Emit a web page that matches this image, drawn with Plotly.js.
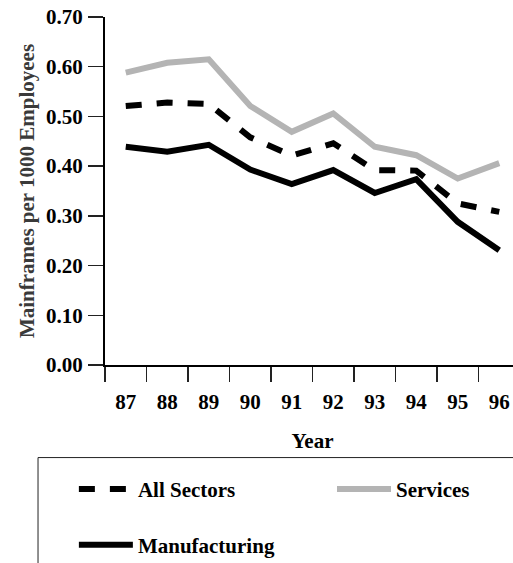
<!DOCTYPE html>
<html>
<head>
<meta charset="utf-8">
<script src="https://cdn.plot.ly/plotly-3.0.1.min.js"></script>
<style>
html, body { margin: 0; padding: 0; overflow: hidden; background: #fff; }
#chart { width: 640px; height: 600px; }
</style>
</head>
<body>
<div id="chart"></div>
<script>
var years = ["87", "88", "89", "90", "91", "92", "93", "94", "95", "96"];
var allSectors = [0.521, 0.528, 0.525, 0.458, 0.421, 0.446, 0.392, 0.391, 0.325, 0.308];
var services = [0.588, 0.608, 0.615, 0.521, 0.469, 0.506, 0.439, 0.422, 0.375, 0.406];
var manufacturing = [0.439, 0.429, 0.443, 0.393, 0.364, 0.392, 0.346, 0.374, 0.288, 0.231];
var seriesNames = ["All Sectors", "Services", "Manufacturing"];
var yTitle = "Mainframes per 1000 Employees";
var xTitle = "Year";

var serif = "Liberation Serif, Times New Roman, serif";
var traces = [
  { x: years, y: allSectors, name: seriesNames[0], type: "scatter", mode: "lines",
    line: { color: "#000000", width: 6, dash: "16px,15px" }, legend: "legend" },
  { x: years, y: services, name: seriesNames[1], type: "scatter", mode: "lines",
    line: { color: "#b4b4b4", width: 6 }, legend: "legend2" },
  { x: years, y: manufacturing, name: seriesNames[2], type: "scatter", mode: "lines",
    line: { color: "#000000", width: 6 }, legend: "legend3" }
];

var legendFont = { family: serif, size: 21, color: "#000", weight: "bold" };
function legendAt(x, y) {
  return {
    orientation: "h", x: x, xanchor: "left", y: y, yanchor: "top",
    font: legendFont, bgcolor: "rgba(0,0,0,0)", borderwidth: 0, itemwidth: 54
  };
}
var layout = {
  width: 640, height: 600,
  margin: { l: 105, r: 120, t: 17, b: 235 },
  paper_bgcolor: "#fff", plot_bgcolor: "#fff",
  font: { family: serif, size: 21, color: "#000", weight: "bold" },
  showlegend: true,
  xaxis: {
    type: "category",
    range: [-0.5, 9.5],
    tickson: "boundaries",
    ticks: "outside", ticklen: 15, tickwidth: 1.5, tickcolor: "#222",
    showline: true, linecolor: "#000", linewidth: 2,
    showgrid: false, zeroline: false,
    tickfont: { family: serif, size: 21, color: "#000", weight: "bold" },
    ticklabelstandoff: 17,
    title: { text: xTitle, font: { family: serif, size: 21, color: "#000", weight: "bold" }, standoff: 20 },
    fixedrange: true
  },
  yaxis: {
    range: [0, 0.7], dtick: 0.1, tickformat: ".2f",
    ticks: "outside", ticklen: 15, tickwidth: 1.5, tickcolor: "#222",
    showline: true, linecolor: "#000", linewidth: 2,
    showgrid: false, zeroline: false,
    tickfont: { family: serif, size: 21, color: "#000", weight: "bold" },
    ticklabelstandoff: 1,
    title: { text: yTitle, font: { family: serif, size: 21, color: "#3a3a3a", weight: "bold" }, standoff: 6 },
    fixedrange: true
  },
  legend: legendAt(-0.075, -0.2986),
  legend2: legendAt(0.547, -0.2986),
  legend3: legendAt(-0.075, -0.4586),
  shapes: [
    { type: "rect", xref: "paper", yref: "paper", x0: -0.1614, x1: 1.4, y0: -0.266, y1: -1.0,
      line: { color: "#222", width: 1 }, fillcolor: "rgba(0,0,0,0)", layer: "below" }
  ]
};

Plotly.newPlot("chart", traces, layout, { displayModeBar: false, staticPlot: true });
</script>
</body>
</html>
